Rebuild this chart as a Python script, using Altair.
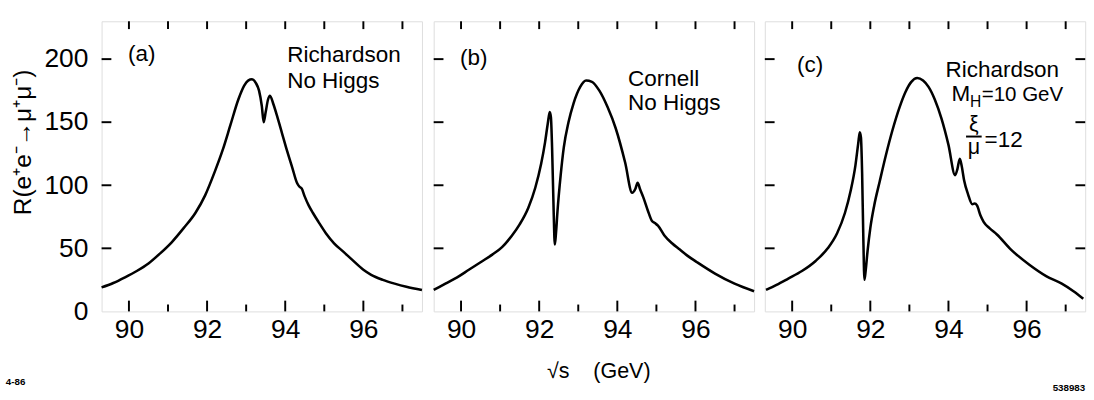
import altair as alt
import pandas as pd

# ---- data ----
A_E = [89.30, 89.60, 89.90, 90.20, 90.50, 90.80, 91.10, 91.40, 91.70, 91.95, 92.20, 92.40, 92.60, 92.80,
       92.95, 93.05, 93.15, 93.25, 93.33, 93.40, 93.45, 93.50, 93.56, 93.61, 93.70, 93.80, 93.92, 94.05,
       94.18, 94.30, 94.36, 94.42, 94.50, 94.60, 94.71, 94.85, 95.04, 95.25, 95.50, 95.71, 96.00, 96.20,
       96.50, 96.80, 97.10, 97.50]
A_R = [19, 22.5, 27, 32, 38, 46, 55, 66, 78, 92, 111, 128, 148, 168,
       179, 183, 184, 181, 175, 163, 150, 158, 168, 171, 164, 154, 141, 127,
       114, 102, 99, 97.5, 91, 84, 78, 71, 62, 54, 47, 41, 33, 29,
       25, 22, 19.5, 17]

B_E = [89.30, 89.60, 89.90, 90.20, 90.50, 90.80, 91.05, 91.30, 91.50, 91.72, 91.90, 92.05, 92.15, 92.22,
       92.27, 92.30, 92.33, 92.37, 92.40, 92.43, 92.47, 92.55, 92.63, 92.75, 92.88, 93.05, 93.20, 93.35,
       93.54, 93.75, 93.96, 94.20, 94.38, 94.46, 94.52, 94.58, 94.67, 94.78, 94.88, 94.96, 95.04, 95.21,
       95.40, 95.60, 95.80, 96.04, 96.50, 97.00, 97.50]
B_R = [17, 22, 27, 33, 39, 45, 51, 60, 69, 82, 98, 117, 134, 149,
       158, 154, 130, 80, 53, 62, 80, 108, 130, 150, 165, 178, 183, 182,
       175, 162, 145, 118, 94, 97, 102, 97, 90, 80, 72, 70, 68, 60,
       54, 49, 44, 39, 30, 22, 16]

C_E = [89.33, 89.60, 89.90, 90.25, 90.60, 90.91, 91.15, 91.35, 91.50, 91.62, 91.69, 91.73, 91.76, 91.79,
       91.82, 91.85, 91.88, 91.93, 92.00, 92.10, 92.24, 92.40, 92.57, 92.75, 92.90, 93.05, 93.20, 93.35,
       93.49, 93.65, 93.82, 94.00, 94.17, 94.23, 94.29, 94.34, 94.40, 94.50, 94.61, 94.67, 94.73, 94.82,
       94.90, 95.05, 95.24, 95.60, 96.07, 96.50, 96.90, 97.20, 97.45]
C_R = [17, 21, 26, 32, 40, 50, 62, 78, 96, 116, 133, 142, 138, 110,
       60, 25, 32, 48, 66, 84, 103, 124, 144, 162, 174, 182, 185, 183,
       178, 168, 153, 132, 108, 113, 121, 115, 104, 93, 85, 85.5, 84, 76,
       71, 66, 61, 49, 37, 28, 22, 16, 10]

X_LABELS = [90, 92, 94, 96]
X_MAJOR = [90, 92, 94, 96]
X_MINOR = [91, 93, 95, 97]
Y_LABELS = [0, 50, 100, 150, 200]
Y_TICKS = [50, 100, 150, 200]

PANEL_LABELS = ["(a)", "(b)", "(c)"]
Y_TITLE = "R(e⁺e⁻→μ⁺μ⁻)"
X_TITLE = "√s\u00a0\u00a0\u00a0\u00a0(GeV)"

# ---- layout ----
W = 328
H = 297
XDOM = [89.3, 97.5]
YDOM = [0, 230]
FONT = "Liberation Sans"

xs = alt.Scale(domain=XDOM, nice=False, zero=False)
ys = alt.Scale(domain=YDOM, nice=False, zero=False)


def xaxis():
    return alt.Axis(values=X_LABELS, title=None, ticks=False, tickSize=0, domain=False, grid=False,
                    labelFontSize=27, labelFont=FONT, labelColor="black", labelPadding=6,
                    format="d", labelFlush=False)


def text_layer(txt, x, y, size=23, align="left", angle=0, weight="normal", baseline="alphabetic"):
    return alt.Chart(pd.DataFrame({"t": [txt]})).mark_text(
        align=align, baseline=baseline, fontSize=size, font=FONT, color="black",
        angle=angle, fontWeight=weight
    ).encode(x=alt.value(x), y=alt.value(y), text="t:N")


def panel(E, R, show_y, right_ticks, extra):
    df = pd.DataFrame({"E": E, "R": R})
    yaxis = (alt.Axis(values=Y_LABELS, title=None, ticks=False, tickSize=0, domain=False, grid=False,
                      labelFontSize=27, labelFont=FONT, labelColor="black", labelPadding=14)
             if show_y else None)
    line = alt.Chart(df).mark_line(interpolate="monotone", color="black", strokeWidth=2.6).encode(
        x=alt.X("E:Q", scale=xs, axis=xaxis()),
        y=alt.Y("R:Q", scale=ys, axis=yaxis),
    )
    major = alt.Chart(pd.DataFrame({"t": X_MAJOR})).mark_rule(color="black", strokeWidth=2).encode(
        x=alt.X("t:Q", scale=xs), y=alt.value(H), y2=alt.value(H - 11))
    minor = alt.Chart(pd.DataFrame({"t": X_MINOR})).mark_rule(color="black", strokeWidth=2).encode(
        x=alt.X("t:Q", scale=xs), y=alt.value(H), y2=alt.value(H - 7))
    topt = alt.Chart(pd.DataFrame({"t": X_MAJOR + X_MINOR})).mark_rule(color="black", strokeWidth=2).encode(
        x=alt.X("t:Q", scale=xs), y=alt.value(0), y2=alt.value(8))
    leftt = alt.Chart(pd.DataFrame({"v": Y_TICKS})).mark_rule(color="black", strokeWidth=2).encode(
        y=alt.Y("v:Q", scale=ys), x=alt.value(0), x2=alt.value(10))
    layers = [line, major, minor, topt, leftt]
    if right_ticks:
        rightt = alt.Chart(pd.DataFrame({"v": Y_TICKS})).mark_rule(color="black", strokeWidth=2).encode(
            y=alt.Y("v:Q", scale=ys), x=alt.value(W), x2=alt.value(W - 10))
        layers.append(rightt)
    layers += extra
    return alt.layer(*layers).properties(width=W, height=H)


pa = panel(A_E, A_R, True, False, [
    text_layer(PANEL_LABELS[0], 27, 41),
    text_layer("Richardson", 190, 42),
    text_layer("No Higgs", 190, 68),
    text_layer(Y_TITLE, -80, 124, size=25, align="center", angle=270, baseline="middle"),
    text_layer("4-86", -98, 372, size=10, weight="bold"),
])

pb = panel(B_E, B_R, False, False, [
    text_layer(PANEL_LABELS[1], 27, 45),
    text_layer("Cornell", 199, 66),
    text_layer("No Higgs", 199, 91),
    text_layer(X_TITLE, W / 2 + 5, 365, size=22, align="center"),
])

pc = panel(C_E, C_R, False, True, [
    text_layer(PANEL_LABELS[2], 33, 52),
    text_layer("Richardson", 185, 57),
    text_layer("M", 191, 82),
    text_layer("H", 210, 88, size=16),
    text_layer("=10 GeV", 222, 82, size=21),
    text_layer("ξ", 214, 112, size=22, align="center"),
    alt.Chart(pd.DataFrame({"t": [1]})).mark_rule(color="black", strokeWidth=2).encode(
        x=alt.value(206), x2=alt.value(222), y=alt.value(118)),
    text_layer("μ", 214, 136, size=22, align="center"),
    text_layer("=12", 225, 129, size=23),
    text_layer("538983", W, 378, size=10, align="right", weight="bold"),
])

chart = alt.hconcat(pa, pb, pc, spacing=0).properties(
    padding={"left": 5, "top": 15, "right": 5, "bottom": 5}
).configure_view(stroke="black", strokeWidth=2).configure_concat(spacing=0).configure(background="white")

chart.save("out.html", embed_options={"renderer": "svg", "actions": False})
